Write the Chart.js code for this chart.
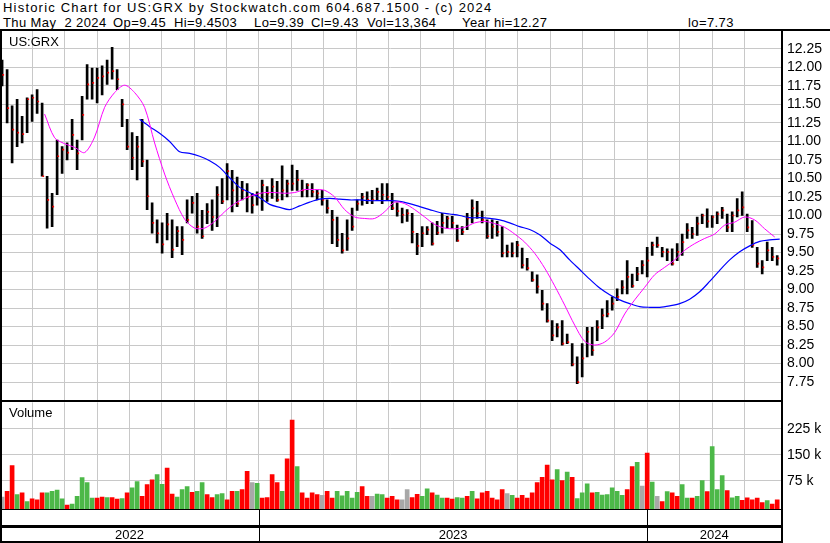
<!DOCTYPE html>
<html>
<head>
<meta charset="utf-8">
<script src="https://cdn.jsdelivr.net/npm/chart.js@4.4.1/dist/chart.umd.min.js"></script>
<style>
body{margin:0;width:830px;height:543px;background:#fff;position:relative;overflow:hidden;font-family:"Liberation Sans",Arial,sans-serif;color:#000}
.abs{position:absolute}
.rule{position:absolute;background:#000}
.hd{position:absolute;font-size:13px;line-height:15px;white-space:pre;letter-spacing:1.2px}
.lbl{position:absolute;font-size:13px;white-space:pre}
.yr{position:absolute;top:527px;font-size:13px;transform:translateX(-50%)}
</style>
</head>
<body>
<div class="hd" style="left:3px;top:0">Historic Chart for US:GRX by Stockwatch.com 604.687.1500 - (c) 2024</div>
<div id="hdr2"></div>
<canvas id="priceChart" class="abs" style="left:0;top:16px" width="830" height="399"></canvas>
<canvas id="volChart" class="abs" style="left:0;top:388px" width="830" height="136"></canvas>
<div class="lbl" style="left:9px;top:34px">US:GRX</div>
<div class="lbl" style="left:9px;top:405px">Volume</div>
<div class="rule" style="left:0;top:29px;width:830px;height:2px"></div>
<div class="rule" style="left:0;top:29px;width:2px;height:514px"></div>
<div class="rule" style="left:781px;top:29px;width:2px;height:514px"></div>
<div class="rule" style="left:0;top:400px;width:783px;height:2px"></div>
<div class="rule" style="left:0;top:509px;width:783px;height:1px"></div>
<div class="rule" style="left:0;top:525px;width:783px;height:3px"></div>
<div class="rule" style="left:0;top:541px;width:783px;height:2px"></div>
<div id="years"></div>
<script>
// quote line fields and where they sit on the second header row
const quoteFields = ['Thu May  2 2024', 'Op=9.45', 'Hi=9.4503', 'Lo=9.39', 'Cl=9.43', 'Vol=13,364', 'Year hi=12.27', 'lo=7.73'];
const quoteLeft = [3, 113, 174, 254, 311, 367, 462, 688];

// one sample every ~3 trading days, x in months since May 1 2022
const T0 = 0.065;
const DT = 0.1545;

const priceHi = [12.10,11.97,11.48,11.57,11.34,11.59,11.63,11.70,11.52,10.53,
  10.30,11.02,10.93,10.98,11.30,11.02,11.61,12.04,11.99,11.99,
  12.02,12.10,12.27,11.97,11.57,11.30,11.12,11.07,11.30,10.75,
  10.17,9.94,9.90,10.03,9.94,9.85,9.85,10.21,10.26,10.30,
  10.07,10.16,10.21,10.39,10.50,10.70,10.61,10.52,10.46,10.43,
  10.30,10.32,10.48,10.39,10.50,10.46,10.67,10.48,10.68,10.61,
  10.48,10.43,10.43,10.34,10.34,10.21,10.07,9.98,9.76,9.94,
  10.10,10.21,10.30,10.32,10.34,10.37,10.43,10.43,10.30,10.17,
  10.10,10.08,10.03,9.76,9.85,9.85,9.90,9.92,10.03,9.99,
  9.99,9.87,9.85,10.03,10.21,10.19,10.06,9.94,9.94,9.92,
  9.85,9.60,9.63,9.65,9.56,9.42,9.24,9.20,8.99,8.81,
  8.58,8.54,8.58,8.40,8.27,8.09,8.27,8.49,8.49,8.58,
  8.74,8.85,8.90,9.01,9.12,9.39,9.21,9.30,9.39,9.57,
  9.64,9.71,9.57,9.55,9.55,9.62,9.75,9.89,9.84,9.98,
  10.02,10.09,10.00,10.05,10.11,10.02,10.05,10.23,10.32,10.02,
  9.93,9.57,9.39,9.64,9.57,9.46];
const priceLo = [11.75,11.25,10.71,10.93,10.98,11.12,11.27,11.38,10.53,9.83,
  9.85,10.28,10.57,10.75,10.89,10.62,11.02,11.57,11.57,11.52,
  11.63,11.77,11.84,11.70,11.20,10.89,10.62,10.48,10.66,10.08,
  9.76,9.63,9.49,9.67,9.43,9.58,9.47,9.90,10.03,9.76,
  9.69,9.89,9.80,9.85,10.16,10.21,10.05,10.12,10.21,10.05,
  10.03,10.14,10.07,10.19,10.23,10.19,10.21,10.25,10.34,10.34,
  10.25,10.25,10.25,10.21,10.14,10.03,9.62,9.58,9.49,9.53,
  9.80,10.07,10.14,10.16,10.16,10.21,10.16,10.21,10.08,9.99,
  9.90,9.92,9.63,9.47,9.58,9.74,9.60,9.74,9.76,9.83,
  9.83,9.65,9.74,9.81,9.90,9.96,9.90,9.69,9.69,9.72,
  9.44,9.44,9.44,9.44,9.29,9.26,9.11,8.95,8.72,8.56,
  8.31,8.36,8.25,8.27,7.97,7.73,7.82,8.09,8.11,8.31,
  8.47,8.63,8.72,8.85,8.94,8.94,9.03,9.12,9.21,9.17,
  9.46,9.57,9.44,9.39,9.33,9.39,9.46,9.69,9.69,9.73,
  9.89,9.84,9.84,9.89,9.96,9.78,9.78,9.98,10.00,9.78,
  9.57,9.30,9.21,9.39,9.39,9.33];
const priceCl = [11.90,11.45,11.16,11.12,11.10,11.57,11.59,11.54,10.53,10.21,
  10.12,10.80,10.89,10.85,11.09,10.84,11.36,11.77,11.79,11.86,
  11.88,11.93,11.95,11.84,11.50,10.93,10.78,10.93,10.73,10.26,
  9.90,9.76,9.61,9.88,9.54,9.79,9.67,9.94,10.17,9.85,
  9.72,10.05,9.98,10.28,10.19,10.60,10.34,10.16,10.34,10.25,
  10.14,10.25,10.41,10.30,10.39,10.21,10.34,10.43,10.43,10.48,
  10.34,10.41,10.32,10.30,10.21,10.10,9.94,9.67,9.53,9.69,
  9.85,10.16,10.25,10.21,10.21,10.32,10.28,10.25,10.10,10.06,
  10.01,10.03,9.78,9.59,9.76,9.81,9.62,9.77,9.90,9.96,
  9.90,9.66,9.78,9.96,10.10,10.03,9.94,9.72,9.85,9.78,
  9.49,9.51,9.49,9.60,9.33,9.29,9.13,9.04,8.81,8.58,
  8.38,8.49,8.27,8.29,7.99,7.75,8.07,8.43,8.18,8.49,
  8.65,8.67,8.81,8.90,9.03,9.17,9.05,9.21,9.33,9.39,
  9.60,9.60,9.51,9.51,9.35,9.51,9.64,9.80,9.75,9.89,
  10.00,9.92,9.98,10.02,10.07,9.84,10.00,10.07,10.11,9.84,
  9.60,9.35,9.30,9.53,9.44,9.42];

// moving averages, read every second sample
const MA_STEP = 0.309;
const maFastStart = 1.378;
const maFast = [11.37,11.05,10.97,10.92,10.85,11.06,11.46,11.66,11.76,11.66,
  11.46,10.98,10.56,10.22,9.95,9.83,9.83,9.92,10.05,10.16,
  10.23,10.28,10.31,10.31,10.30,10.31,10.35,10.35,10.34,10.25,
  10.08,9.98,9.96,9.96,10.05,10.18,10.16,10.08,9.98,9.88,
  9.83,9.82,9.84,9.90,9.92,9.89,9.84,9.75,9.64,9.49,
  9.29,9.05,8.79,8.52,8.30,8.25,8.29,8.42,8.67,8.86,
  9.03,9.20,9.30,9.40,9.53,9.62,9.69,9.75,9.87,9.91,
  9.98,9.94,9.82,9.71];
const maSlowStart = 4.314;
const maSlow = [11.30,11.20,11.11,11.00,10.86,10.84,10.80,10.74,10.65,10.51,
  10.38,10.31,10.24,10.15,10.11,10.08,10.13,10.18,10.22,10.23,
  10.22,10.21,10.21,10.20,10.20,10.20,10.19,10.16,10.12,10.08,
  10.04,10.02,10.00,9.97,9.97,9.96,9.94,9.90,9.85,9.81,
  9.74,9.63,9.54,9.40,9.27,9.14,9.02,8.93,8.86,8.81,
  8.77,8.76,8.76,8.78,8.81,8.87,8.97,9.11,9.26,9.40,
  9.51,9.59,9.65,9.67,9.68];

// volume in thousands, one per sample; d = down, u = up, n = unchanged
const volume = [28,45,119,35,40,15,23,20,40,40,
  45,48,23,5,8,30,84,70,25,25,
  28,27,27,22,24,40,55,73,30,64,
  78,93,65,112,37,28,50,58,42,45,
  70,35,27,35,38,20,45,45,50,102,
  70,68,25,27,93,70,45,138,250,116,
  40,25,40,35,33,45,25,45,32,45,
  25,42,58,30,30,37,35,25,
  30,20,20,50,27,36,30,52,40,34,
  25,25,22,27,25,30,45,23,40,45,
  25,20,50,38,33,25,33,25,40,70,
  85,120,78,107,76,100,85,24,40,66,
  40,42,34,35,55,45,33,50,116,128,
  60,155,71,30,15,44,40,30,64,25,
  25,30,76,44,174,50,90,47,26,30,
  19,26,20,25,12,18,8,20];
const volDir = ('nddududddu' + 'uuuduuuuud' + 'dudduduudd' + 'duudduuudu' +
  'udduuddudd' + 'nudddduddu' + 'ddddndduuu' + 'uuddnuud' +
  'ddnndduudu' + 'udduududdd' + 'dddnuddddd' + 'dddududuuu' +
  'duuuuuuddu' + 'ndundudduu' + 'duuduuuduu' + 'dddddudd').split('');

const years = ['2022', '2023', '2024'];
const yearBounds = [0, 8, 20, 24.13];
const priceTicks = [7.75, 12.25];
const volTicks = [75, 150, 225];

const gridColor = '#c8c8c8';
const dirColor = { d: '#ff0000', u: '#4cb848', n: '#a8a8a8' };
const font = { family: '"Liberation Sans", Arial, sans-serif', size: 14 };

const hdr2 = document.getElementById('hdr2');
quoteFields.forEach((t, k) => {
  const d = document.createElement('div');
  d.className = 'hd';
  d.style.cssText = `left:${quoteLeft[k]}px;top:15px;letter-spacing:0.4px`;
  d.textContent = t;
  hdr2.appendChild(d);
});

function xAxis() {
  return {
    type: 'linear', min: 0, max: 24.13, offset: false,
    ticks: { display: false, stepSize: 1 },
    grid: { color: gridColor, drawTicks: false, offset: false },
    border: { display: false },
    afterFit: s => { s.height = 0; }
  };
}

const barPts = priceHi.map((h, i) => ({ x: T0 + DT * i, y: [priceLo[i], h] }));
const clPts = priceCl.map((c, i) => ({ x: T0 + DT * i + 0.035, y: c }));
const fastPts = maFast.map((v, j) => ({ x: maFastStart + MA_STEP * j, y: v }));
const slowPts = maSlow.map((v, j) => ({ x: maSlowStart + MA_STEP * j, y: v }));

new Chart(document.getElementById('priceChart'), {
  type: 'bar',
  data: {
    datasets: [
      { type: 'line', data: fastPts, borderColor: '#ff00ff', borderWidth: 1, pointRadius: 0, tension: 0.3, order: 1 },
      { type: 'line', data: slowPts, borderColor: '#0000ff', borderWidth: 1.2, pointRadius: 0, tension: 0.3, order: 1 },
      { type: 'line', data: clPts, showLine: false, pointStyle: 'rect', pointRadius: 1.2, pointBorderWidth: 0, pointBackgroundColor: '#ff0000', order: 2 },
      { type: 'bar', data: barPts, backgroundColor: '#000', barThickness: 2, grouped: false, order: 3 }
    ]
  },
  options: {
    responsive: false, animation: false, devicePixelRatio: 1,
    layout: { padding: 0, autoPadding: false },
    plugins: { legend: { display: false }, tooltip: { enabled: false } },
    scales: {
      x: xAxis(),
      y: {
        position: 'right', min: 7.5, max: 12.5,
        ticks: {
          stepSize: 0.25, padding: 6, color: '#000', font, autoSkip: false,
          callback: v => (v < priceTicks[0] - 0.01 || v > priceTicks[1] + 0.01) ? '' : v.toFixed(2)
        },
        grid: { color: gridColor, drawTicks: false },
        border: { display: false },
        afterFit: s => { s.width = 49; }
      }
    }
  }
});

const volChart = new Chart(document.getElementById('volChart'), {
  type: 'bar',
  data: {
    datasets: [{
      data: volume.map((v, i) => ({ x: T0 + DT * i, y: v })),
      backgroundColor: volDir.map(d => dirColor[d]),
      barThickness: 4, base: -8, grouped: false
    }]
  },
  options: {
    responsive: false, animation: false, devicePixelRatio: 1,
    layout: { padding: 0, autoPadding: false },
    plugins: { legend: { display: false }, tooltip: { enabled: false } },
    scales: {
      x: xAxis(),
      y: {
        position: 'right', min: -8, max: 301,
        afterBuildTicks: s => { s.ticks = volTicks.map(v => ({ value: v })); },
        ticks: { padding: 6, color: '#000', font, autoSkip: false, callback: v => v + ' k' },
        grid: { color: gridColor, drawTicks: false },
        border: { display: false },
        afterFit: s => { s.width = 49; }
      }
    }
  }
});

// year strip under the volume panel
const xs = volChart.scales.x;
const host = document.getElementById('years');
yearBounds.slice(1, -1).forEach(b => {
  const d = document.createElement('div');
  d.className = 'rule';
  d.style.cssText = `left:${Math.round(xs.getPixelForValue(b))}px;top:509px;width:1px;height:33px`;
  host.appendChild(d);
});
years.forEach((y, k) => {
  const d = document.createElement('div');
  d.className = 'yr';
  d.textContent = y;
  d.style.left = ((xs.getPixelForValue(yearBounds[k]) + xs.getPixelForValue(yearBounds[k + 1])) / 2) + 'px';
  host.appendChild(d);
});
</script>
</body>
</html>
